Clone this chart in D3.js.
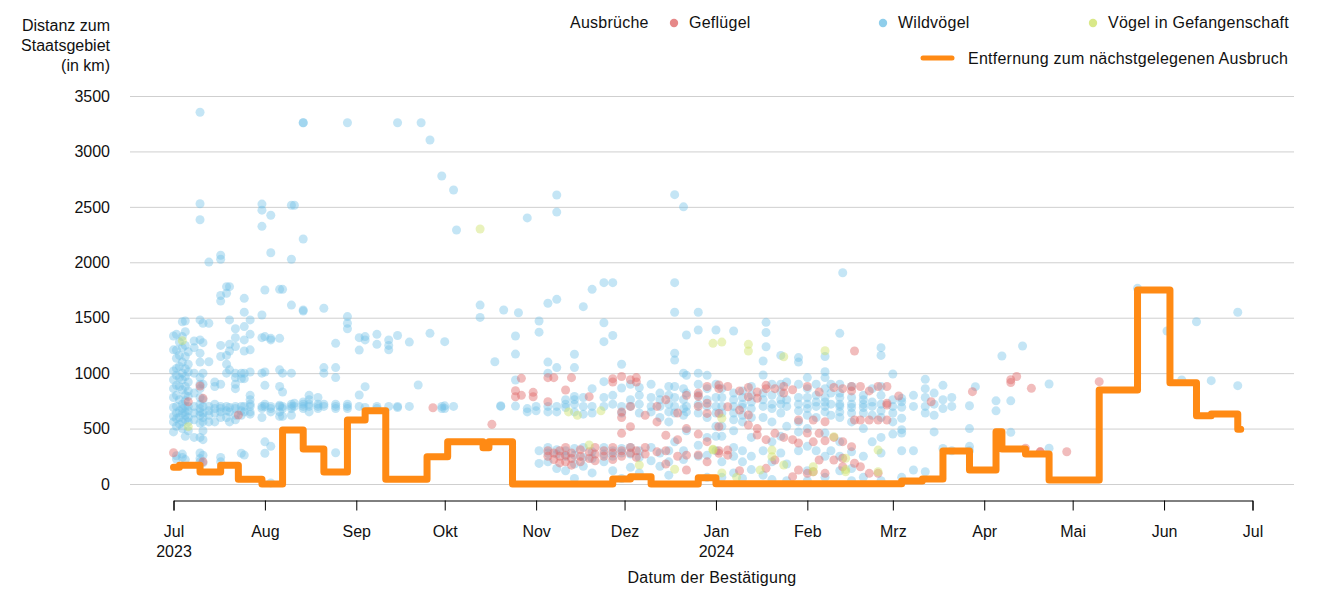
<!DOCTYPE html>
<html><head><meta charset="utf-8">
<script src="https://cdn.jsdelivr.net/npm/d3@7"></script>
<style>
body{margin:0;background:#fff}
svg{display:block}
text{font-family:"Liberation Sans",Arial,sans-serif;font-size:16px;fill:#111}
.wide{letter-spacing:0.25px}
</style>
</head><body>
<svg id="chart" width="1333" height="600"></svg>
<script>
// ---------- DATA ----------
const monthTicks = ["2023-07-01","2023-08-01","2023-09-01","2023-10-01","2023-11-01","2023-12-01","2024-01-01","2024-02-01","2024-03-01","2024-04-01","2024-05-01","2024-06-01","2024-07-01"];
const monthLabels = ["Jul","Aug","Sep","Okt","Nov","Dez","Jan","Feb","Mrz","Apr","Mai","Jun","Jul"];
const yearLabels = {"2023-07-01":"2023","2024-01-01":"2024"};
const yTicks = [0,500,1000,1500,2000,2500,3000,3500];

// Wildvögel: [date, distances in km]
const wildvoegel = [
["2023-07-01",[1335,1210,1020,940,860,780,690,610,560,470]],
["2023-07-02",[1350,1208,1134,1043,980,890,800,700,640,590,520,255,225]],
["2023-07-03",[1280,1160,1060,960,880,760,660,600,540]],
["2023-07-04",[1464,1330,1230,1100,1000,940,850,720,680,640,560,500,270,240]],
["2023-07-05",[1470,1374,1250,1150,1040,970,880,800,750,700,650,620,580,430,220]],
["2023-07-06",[1193,1080,1010,920,840,790,700,660,600,560,480]],
["2023-07-08",[1290,1230,1000,820,700,640,580,420]],
["2023-07-10",[3353,2528,2384,1480,1300,1180,1100,960,900,860,780,720,680,650,620,550,420,280,230,200]],
["2023-07-11",[1450,1275,1000,900,760,700,640,600,560,480,400,260,190]],
["2023-07-13",[2002,1450,1103,700,660,620,560]],
["2023-07-15",[920,880,720,680,640,560]],
["2023-07-17",[2063,2027,1700,1650,1250,1150,900,700,680,650,600,240,200]],
["2023-07-19",[1780,1720,1160,1080,1000,700,660,600]],
["2023-07-20",[1780,1480,1260,1200,1030,690,650,560]],
["2023-07-22",[1400,1320,1240,1000,960,900,860,700,680,620,580]],
["2023-07-24",[1000,950,700,660,620,277]],
["2023-07-25",[1675,1550,1420,1300,1200,1000,950,700,650,261]],
["2023-07-27",[1480,1350,1210,1010,800,760,720,700,650,630]],
["2023-07-31",[2525,2470,2324,1524,1320,1000,700,680,600]],
["2023-08-01",[1750,1330,1010,890,720,700,380,277]],
["2023-08-03",[2424,2086,1314,1300,700,680,650,340,10]],
["2023-08-06",[1756,1314,1030,880,710,700,650,610]],
["2023-08-07",[1756,1000,830,700,680,610]],
["2023-08-10",[2514,2027,1614,1000,720,700,680,620]],
["2023-08-11",[2514,728,700]],
["2023-08-14",[3259,3259,2210,1570,1560,740,720,700,680]],
["2023-08-16",[800,760,720,700,650]],
["2023-08-19",[780,720,700,680]],
["2023-08-21",[1585,1050,1000,720,700]],
["2023-08-25",[1269,1050,960,720,700,680,282]],
["2023-08-29",[3259,1510,1450,1400,720,700,680]],
["2023-09-02",[1320,1208,803,700]],
["2023-09-04",[1330,1300,878,690]],
["2023-09-08",[1350,1260,700,680]],
["2023-09-12",[1300,1250,1210,700]],
["2023-09-15",[3259,1340,700,690]],
["2023-09-19",[1280,700]],
["2023-09-22",[893]],
["2023-09-23",[3259]],
["2023-09-26",[3103,1359]],
["2023-09-30",[2778,700,680]],
["2023-10-01",[1284,705,680]],
["2023-10-04",[2652,700]],
["2023-10-05",[2291]],
["2023-10-13",[1614,1503]],
["2023-10-18",[1103]],
["2023-10-20",[706,700]],
["2023-10-21",[1570]],
["2023-10-25",[1335,1172,938,703]],
["2023-10-26",[1545]],
["2023-10-29",[2400,680,650]],
["2023-11-01",[700,660]],
["2023-11-02",[1470,1370,300,186]],
["2023-11-05",[1630,1100,1000,700,650,330,280,200]],
["2023-11-08",[2607,2453,1666,1050,700,650,310,270,140]],
["2023-11-11",[760,720,690,300,250,120]],
["2023-11-14",[1170,1050,790,760,720,650,320,260,180,50]],
["2023-11-17",[1600,780,700,630,330,240,160]],
["2023-11-20",[1756,860,700,640,290,230,100]],
["2023-11-24",[1816,1455,1284,923,780,700,330,270,200]],
["2023-11-27",[1816,1340,800,720,300,250,120]],
["2023-11-30",[1080,866,700,640,320,280,50]],
["2023-12-03",[900,760,700,330,270,150]],
["2023-12-06",[870,800,720,640,300,240,100]],
["2023-12-10",[900,780,700,650,330,210]],
["2023-12-13",[820,760,700,600,280,160]],
["2023-12-16",[880,800,720,650,560,300,200,80]],
["2023-12-18",[2610,1816,1549,1179,1118,880,780,700,640,380]],
["2023-12-21",[2500,1000,860,760,680,620,300,220]],
["2023-12-22",[1344,980,820,700,650,480]],
["2023-12-26",[1549,1389,1000,900,800,720,640,350,250]],
["2023-12-29",[980,860,760,700,600,420,260,60]],
["2024-01-01",[1389,900,780,700,640,520,430,300]],
["2024-01-03",[860,780,700,640,520,430,200,60]],
["2024-01-07",[1380,820,760,700,640,580,480,330,250,100]],
["2024-01-10",[840,780,720,690,620,560,300,200,50]],
["2024-01-13",[880,800,740,680,600,420,250,130]],
["2024-01-17",[1110,983,820,760,700,600,300,80]],
["2024-01-18",[1458,1367,1238]],
["2024-01-20",[900,800,720,680,560,380,200,40]],
["2024-01-23",[1160,900,830,760,720,640,430,280]],
["2024-01-25",[920,760,700,520,180,30]],
["2024-01-29",[1140,1100,900,780,720,660,560,470,300]],
["2024-02-01",[960,860,780,720,680,620,500,340,120,30]],
["2024-02-04",[900,800,740,700,600,300]],
["2024-02-07",[1150,1013,960,860,780,740,700,650,460,250,60]],
["2024-02-09",[900,820,720,620,300]],
["2024-02-12",[1359,900,820,780,720,700,650,600,380,250,120]],
["2024-02-13",[1906]],
["2024-02-16",[880,780,720,690,640,560,290,140,30]],
["2024-02-20",[800,760,720,690,640,500,250,60]],
["2024-02-23",[860,740,700,620,380]],
["2024-02-26",[1230,1160,880,800,720,660,600,420,280,30]],
["2024-03-01",[992,760,700,640,560,450]],
["2024-03-04",[773,742,692,593,490,460,300,60]],
["2024-03-08",[800,700,300,126]],
["2024-03-12",[944,860,780,700,640,110]],
["2024-03-15",[820,720,620,470]],
["2024-03-18",[890,760,680,320]],
["2024-03-21",[780,700,300]],
["2024-03-27",[706,500,340,300]],
["2024-03-29",[878]],
["2024-04-05",[750,660]],
["2024-04-07",[1155]],
["2024-04-10",[750,466]],
["2024-04-14",[1245]],
["2024-04-23",[902,322]],
["2024-05-23",[1765]],
["2024-06-02",[1380]],
["2024-06-07",[938]],
["2024-06-12",[1464]],
["2024-06-17",[932]],
["2024-06-26",[1549,887]]
];

// Geflügel
const gefluegel = [
["2023-07-01",[282]],["2023-07-06",[742]],["2023-07-10",[884]],["2023-07-11",[773,201]],["2023-07-23",[622]],
["2023-09-27",[688]],["2023-10-17",[538]],["2023-10-25",[841,787]],["2023-10-27",[953,800]],["2023-10-31",[827,787]],
["2023-11-05",[959,742,300,250]],["2023-11-07",[959,280,220]],["2023-11-09",[300,250,190]],["2023-11-11",[848,330,260,200]],
["2023-11-13",[959,280,230,170]],["2023-11-16",[310,250,200]],["2023-11-19",[788,290,230]],["2023-11-21",[330,270,210]],
["2023-11-24",[300,250]],["2023-11-27",[950,920,330,280,220]],["2023-11-30",[970,650,600,457,300,250]],
["2023-12-03",[940,700,517,330,280]],["2023-12-05",[960,920,300,240]],["2023-12-08",[620,330,270]],
["2023-12-12",[700,560,290]],["2023-12-15",[760,440,300,180]],["2023-12-19",[640,400,250]],
["2023-12-22",[800,500,260,126]],["2023-12-26",[820,790,700,450,262]],["2023-12-29",[880,728,637,382,200]],
["2024-01-02",[893,860,637,517,300,277]],["2024-01-05",[880,697,306,260]],["2024-01-09",[840,667,120]],
["2024-01-12",[870,787,622,532]],["2024-01-15",[830,773,500,442]],["2024-01-18",[890,860,400,141]],
["2024-01-21",[860,457,216]],["2024-01-24",[880,820,420]],["2024-01-27",[850,400,66]],
["2024-01-29",[577,370,126]],["2024-02-01",[880,460,96]],["2024-02-03",[577,380,110]],
["2024-02-05",[830,457,216]],["2024-02-07",[562,390,96]],["2024-02-10",[870,420,216]],
["2024-02-13",[860,382,232,156]],["2024-02-16",[880,840,337]],["2024-02-17",[1200,577,187]],
["2024-02-19",[880,577,156]],["2024-02-22",[840,577,96]],["2024-02-25",[880,577,96]],
["2024-02-28",[880,728,712,577]],["2024-03-03",[794]],["2024-03-14",[742]],["2024-03-28",[833]],
["2024-04-10",[940,915]],["2024-04-12",[970]],["2024-04-15",[322]],["2024-04-17",[863]],
["2024-04-20",[290,290]],["2024-04-29",[291]],["2024-05-10",[923]]
];

// Vögel in Gefangenschaft
const gefangenschaft = [
["2023-07-04",[1293]],["2023-07-06",[517]],["2023-10-13",[2300]],["2023-11-12",[650]],["2023-11-15",[620]],
["2023-11-19",[352]],["2023-11-23",[660]],["2023-12-06",[171]],["2023-12-18",[133]],["2023-12-31",[1269,313,306]],
["2024-01-03",[1280,593,100]],["2024-01-08",[60]],["2024-01-12",[1260,1200]],["2024-01-16",[126]],
["2024-01-20",[306,246]],["2024-01-24",[1148,171]],["2024-02-03",[156,110]],["2024-02-07",[1202]],
["2024-02-10",[427]],["2024-02-14",[232,130,111]],["2024-02-25",[306,111]]
];

// Entfernung zum nächstgelegenen Ausbruch (step, value holds from date)
const entfernung = [
["2023-07-01",150],["2023-07-03",170],["2023-07-10",108],["2023-07-17",170],["2023-07-23",42],["2023-07-31",0],
["2023-08-07",487],["2023-08-14",316],["2023-08-21",108],["2023-08-29",577],["2023-09-04",661],["2023-09-11",42],
["2023-09-25",246],["2023-10-02",382],["2023-10-14",327],["2023-10-16",382],["2023-10-24",0],["2023-11-27",45],
["2023-12-03",66],["2023-12-10",0],["2023-12-26",57],["2024-01-01",3],["2024-03-04",27],["2024-03-11",45],
["2024-03-18",298],["2024-03-27",126],["2024-04-05",472],["2024-04-07",316],["2024-04-15",270],["2024-04-23",36],
["2024-05-10",848],["2024-05-23",1750],["2024-06-03",914],["2024-06-12",616],["2024-06-17",631],["2024-06-26",493],
["2024-06-27",493]
];

const seriesNames = ["Geflügel","Wildvögel","Vögel in Gefangenschaft"];
const seriesColors = ["#e06a6a","#73c2e6","#cfe26a"];
const lineName = "Entfernung zum nächstgelegenen Ausbruch";
const lineColor = "#ff8a14";

// ---------- CHART ----------
const parse = d3.timeParse("%Y-%m-%d");
const svg = d3.select("#chart");
const x = d3.scaleTime().domain([parse("2023-07-01"), parse("2024-07-01")]).range([173.5, 1252.5]);
const y = d3.scaleLinear().domain([0, 3500]).range([484, 96]);

// gridlines
svg.append("g").selectAll("line").data(yTicks).join("line")
  .attr("x1", 130).attr("x2", 1294)
  .attr("y1", d => y(d) + 0.5).attr("y2", d => y(d) + 0.5)
  .attr("stroke", "#cfcfcf").attr("stroke-width", 1);

// y tick labels
svg.append("g").selectAll("text").data(yTicks).join("text")
  .attr("x", 110).attr("y", d => y(d)).attr("dy", "0.36em")
  .attr("text-anchor", "end").text(d => d);

// y title
svg.append("text").attr("text-anchor", "end").selectAll("tspan")
  .data(["Distanz zum", "Staatsgebiet", "(in km)"]).join("tspan")
  .attr("x", 110).attr("y", (d, i) => 31 + i * 20).text(d => d);

// x axis
const tickDates = monthTicks.map(parse);
const xAxis = d3.axisBottom(x).tickValues(tickDates).tickSize(10).tickSizeOuter(10).tickFormat("");
const gx = svg.append("g").attr("transform", "translate(0,500.5)").call(xAxis);
gx.select(".domain").attr("stroke", "#000");
gx.selectAll(".tick line").attr("stroke", "#000");
gx.selectAll(".tick text").remove();
gx.selectAll(".tick").each(function(d, i) {
  const t = d3.select(this).append("text").attr("text-anchor", "middle").attr("fill", "#111")
    .style("font-size", "16px").style("font-family", "'Liberation Sans',Arial,sans-serif");
  t.append("tspan").attr("x", 0).attr("y", 36).text(monthLabels[i]);
  const yl = yearLabels[monthTicks[i]];
  if (yl) t.append("tspan").attr("x", 0).attr("y", 56.5).text(yl);
});
svg.append("text").attr("class", "wide").attr("x", 712).attr("y", 583).attr("text-anchor", "middle").text("Datum der Bestätigung");

// points
const flat = arr => arr.flatMap(([d, vs]) => vs.map(v => ({date: parse(d), km: v})));
const layers = [
  {data: flat(wildvoegel), color: seriesColors[1], op: 0.42},
  {data: flat(gefluegel), color: seriesColors[0], op: 0.45},
  {data: flat(gefangenschaft), color: seriesColors[2], op: 0.45}
];
layers.forEach(l => {
  svg.append("g").selectAll("circle").data(l.data).join("circle")
    .attr("cx", d => x(d.date)).attr("cy", d => y(d.km)).attr("r", 4.5)
    .attr("fill", l.color).attr("fill-opacity", l.op);
});

// step line
const line = d3.line().x(d => x(parse(d[0]))).y(d => y(d[1])).curve(d3.curveStepAfter);
svg.append("path").datum(entfernung).attr("d", line)
  .attr("fill", "none").attr("stroke", lineColor).attr("stroke-width", 7)
  .attr("stroke-linejoin", "round").attr("stroke-linecap", "round");

// legend
svg.append("text").attr("class", "wide").attr("x", 570).attr("y", 28).text("Ausbrüche");
const legX = [674, 883, 1093];
seriesNames.forEach((n, i) => {
  svg.append("circle").attr("cx", legX[i]).attr("cy", 23).attr("r", 4.2)
    .attr("fill", seriesColors[i]).attr("fill-opacity", 0.8);
  svg.append("text").attr("class", "wide").attr("x", legX[i] + 15).attr("y", 28).text(n);
});
svg.append("line").attr("x1", 923).attr("x2", 952).attr("y1", 58).attr("y2", 58)
  .attr("stroke", lineColor).attr("stroke-width", 5).attr("stroke-linecap", "round");
svg.append("text").attr("class", "wide").attr("x", 968).attr("y", 63.5).text(lineName);
</script>
</body></html>
